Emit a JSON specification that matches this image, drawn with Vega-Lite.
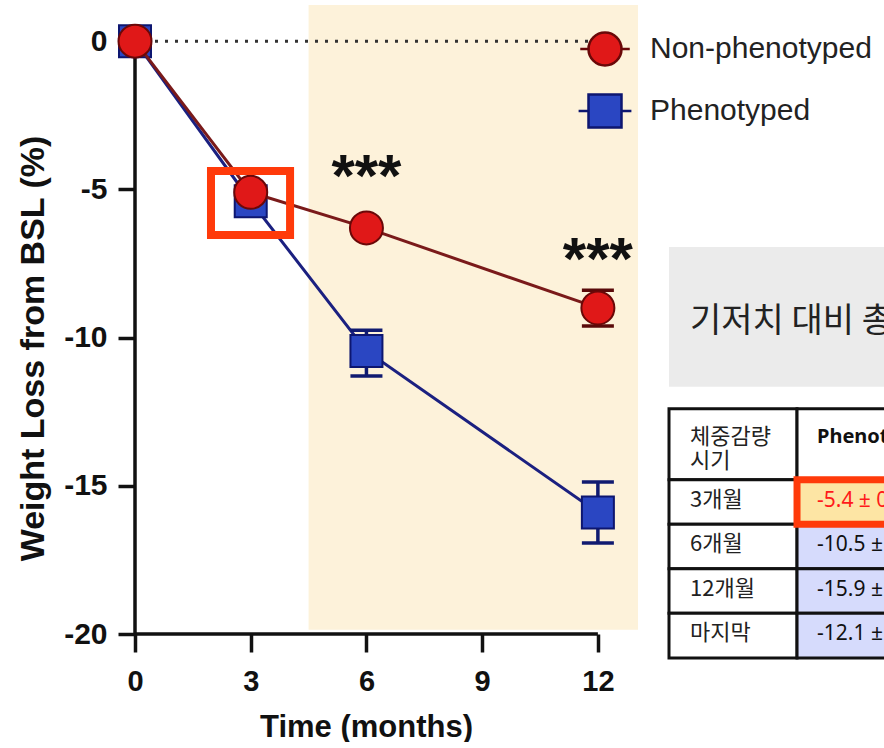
{
  "$schema": "https://vega.github.io/schema/vega-lite/v6.json",
  "padding": {"left": 16, "top": 5, "right": 0, "bottom": 0},
  "background": "white",
  "bounds": "flush",
  "spacing": 31,
  "config": {"view": {"stroke": null}, "font": "Liberation Sans"},
  "datasets": {
    "phen": [
      {"month": 0, "loss": 0},
      {"month": 3, "loss": -5.4},
      {"month": 6, "loss": -10.45},
      {"month": 12, "loss": -15.9}
    ],
    "non": [
      {"month": 0, "loss": 0},
      {"month": 3, "loss": -5.1},
      {"month": 6, "loss": -6.3},
      {"month": 12, "loss": -9.0}
    ],
    "phenErr": [
      {"month": 6, "lo": -11.3, "hi": -9.75},
      {"month": 12, "lo": -16.93, "hi": -14.87}
    ],
    "nonErr": [
      {"month": 12, "lo": -9.61, "hi": -8.4}
    ],
    "groups": [
      {"group": "Non-phenotyped"},
      {"group": "Phenotyped"}
    ],
    "stars": [
      {"month": 6, "y": -4.3, "label": "***"},
      {"month": 12, "y": -7.1, "label": "***"}
    ],
    "header": [
      {"label": "체중감량\n시기", "value": "Phenotyped", "top": 9.07, "bottom": 10.67}
    ],
    "tbl": [
      {"label": "3개월", "value": "-5.4 ± 0.3", "kind": "highlight", "top": 10.67, "bottom": 11.67},
      {"label": "6개월", "value": "-10.5 ± 0.7", "kind": "blue", "top": 11.67, "bottom": 12.67},
      {"label": "12개월", "value": "-15.9 ± 1.0", "kind": "blue", "top": 12.67, "bottom": 13.67},
      {"label": "마지막", "value": "-12.1 ± 0.8", "kind": "blue", "top": 13.67, "bottom": 14.67}
    ]
  },
  "hconcat": [
    {
      "width": 503,
      "height": 629,
      "layer": [
        {
          "data": {"values": [{"start": 4.5, "end": 13.04, "top": 1.22, "bottom": -19.86}]},
          "mark": {"type": "rect", "color": "#fdf2da"},
          "encoding": {
            "x": {"field": "start", "type": "quantitative",
              "scale": {"domain": [0, 13.04], "nice": false, "zero": false},
              "axis": {"values": [0, 3, 6, 9, 12], "domain": false, "grid": false, "tickSize": 18, "tickWidth": 3.5, "tickColor": "#111",
                "labelFontSize": 29, "labelFontWeight": "bold", "labelColor": "#111", "labelPadding": 15, "labelFlush": false,
                "title": "Time (months)", "titleFontSize": 31, "titleFontWeight": "bold", "titleColor": "#111", "titlePadding": 16, "titleX": 231}},
            "x2": {"field": "end"},
            "y": {"field": "top", "type": "quantitative",
              "scale": {"domain": [-20, 1.22], "nice": false, "zero": false},
              "axis": {"values": [0, -5, -10, -15, -20], "domain": false, "grid": false, "tickSize": 17, "tickWidth": 3.5, "tickColor": "#111",
                "labelFontSize": 30, "labelFontWeight": "bold", "labelColor": "#111", "labelPadding": 11, "labelExpr": "toString(datum.value)",
                "title": "Weight Loss from BSL (%)", "titleFontSize": 34, "titleFontWeight": "bold", "titleColor": "#111", "titlePadding": 13, "titleY": 343}},
            "y2": {"field": "bottom"}
          }
        },
        {
          "data": {"values": [{}]},
          "mark": {"type": "rule", "strokeWidth": 3.5, "color": "#111"},
          "encoding": {"x": {"datum": 0}, "y": {"datum": 0}, "y2": {"datum": -20}}
        },
        {
          "data": {"values": [{}]},
          "mark": {"type": "rule", "strokeWidth": 3.5, "color": "#111"},
          "encoding": {"x": {"datum": 0}, "x2": {"datum": 12}, "y": {"datum": -20}}
        },
        {
          "data": {"values": [{}]},
          "mark": {"type": "rule", "strokeWidth": 3, "color": "#333", "strokeDash": [3, 7]},
          "encoding": {"x": {"datum": 0}, "x2": {"datum": 12}, "y": {"datum": 0}}
        },
        {
          "data": {"name": "phen"},
          "mark": {"type": "line", "color": "#1b2080", "strokeWidth": 3},
          "encoding": {"x": {"field": "month", "type": "quantitative"}, "y": {"field": "loss", "type": "quantitative"}}
        },
        {
          "data": {"name": "phenErr"},
          "mark": {"type": "rule", "color": "#101a70", "strokeWidth": 3.5},
          "encoding": {"x": {"field": "month", "type": "quantitative"}, "y": {"field": "lo", "type": "quantitative"}, "y2": {"field": "hi"}}
        },
        {
          "data": {"name": "phenErr"},
          "mark": {"type": "tick", "orient": "horizontal", "color": "#101a70", "size": 32, "thickness": 3.5, "opacity": 1},
          "encoding": {"x": {"field": "month", "type": "quantitative"}, "y": {"field": "lo", "type": "quantitative"}}
        },
        {
          "data": {"name": "phenErr"},
          "mark": {"type": "tick", "orient": "horizontal", "color": "#101a70", "size": 32, "thickness": 3.5, "opacity": 1},
          "encoding": {"x": {"field": "month", "type": "quantitative"}, "y": {"field": "hi", "type": "quantitative"}}
        },
        {
          "data": {"name": "phen"},
          "mark": {"type": "point", "shape": "square", "size": 1024, "filled": true, "fill": "#2a46c2", "stroke": "#0d1670", "strokeWidth": 2, "opacity": 1},
          "encoding": {"x": {"field": "month", "type": "quantitative"}, "y": {"field": "loss", "type": "quantitative"}}
        },
        {
          "data": {"name": "non"},
          "mark": {"type": "line", "color": "#7a1a1a", "strokeWidth": 3},
          "encoding": {"x": {"field": "month", "type": "quantitative"}, "y": {"field": "loss", "type": "quantitative"}}
        },
        {
          "data": {"name": "nonErr"},
          "mark": {"type": "rule", "color": "#5a0a0a", "strokeWidth": 3.5},
          "encoding": {"x": {"field": "month", "type": "quantitative"}, "y": {"field": "lo", "type": "quantitative"}, "y2": {"field": "hi"}}
        },
        {
          "data": {"name": "nonErr"},
          "mark": {"type": "tick", "orient": "horizontal", "color": "#5a0a0a", "size": 32, "thickness": 3.5, "opacity": 1},
          "encoding": {"x": {"field": "month", "type": "quantitative"}, "y": {"field": "lo", "type": "quantitative"}}
        },
        {
          "data": {"name": "nonErr"},
          "mark": {"type": "tick", "orient": "horizontal", "color": "#5a0a0a", "size": 32, "thickness": 3.5, "opacity": 1},
          "encoding": {"x": {"field": "month", "type": "quantitative"}, "y": {"field": "hi", "type": "quantitative"}}
        },
        {
          "data": {"name": "non"},
          "mark": {"type": "point", "shape": "circle", "size": 1089, "filled": true, "fill": "#e01818", "stroke": "#6a0808", "strokeWidth": 2, "opacity": 1},
          "encoding": {"x": {"field": "month", "type": "quantitative"}, "y": {"field": "loss", "type": "quantitative"}}
        },
        {
          "data": {"name": "stars"},
          "mark": {"type": "text", "fontSize": 60, "fontWeight": "bold", "color": "#111", "align": "center", "baseline": "middle", "dy": 9},
          "encoding": {"x": {"field": "month", "type": "quantitative"}, "y": {"field": "y", "type": "quantitative"}, "text": {"field": "label"}}
        },
        {
          "data": {"values": [{}]},
          "mark": {"type": "rect", "fill": null, "fillOpacity": 0, "stroke": "#ff3a0a", "strokeWidth": 8},
          "encoding": {"x": {"datum": 1.97}, "x2": {"datum": 4.02}, "y": {"datum": -4.38}, "y2": {"datum": -6.54}}
        },
        {
          "data": {"name": "groups"},
          "mark": {"type": "point", "filled": true, "opacity": 0},
          "encoding": {
            "shape": {"field": "group", "type": "nominal",
              "scale": {"domain": ["Non-phenotyped", "Phenotyped"],
                "range": ["M-1,0A1,1 0 1,1 1,0A1,1 0 1,1 -1,0Z M-1.5,0L-1,0 M1,0L1.5,0", "M-1,-1H1V1H-1Z M-1.6,0H-1 M1,0H1.6"]},
              "legend": {"title": null, "orient": "none", "legendX": 452, "legendY": 26, "symbolSize": 1089, "symbolStrokeWidth": 2.5, "symbolOpacity": 1,
                "labelFontSize": 30, "labelFont": "Liberation Sans", "labelColor": "#222", "labelOffset": 27, "labelLimit": 400, "rowPadding": 18}},
            "fill": {"field": "group", "type": "nominal",
              "scale": {"domain": ["Non-phenotyped", "Phenotyped"], "range": ["#e01818", "#2a46c2"]},
              "legend": {"title": null, "orient": "none", "legendX": 452, "legendY": 26, "symbolSize": 1089, "symbolStrokeWidth": 2.5, "symbolOpacity": 1,
                "labelFontSize": 30, "labelFont": "Liberation Sans", "labelColor": "#222", "labelOffset": 27, "labelLimit": 400, "rowPadding": 18}},
            "stroke": {"field": "group", "type": "nominal",
              "scale": {"domain": ["Non-phenotyped", "Phenotyped"], "range": ["#6a0808", "#0d1670"]},
              "legend": {"title": null, "orient": "none", "legendX": 452, "legendY": 26, "symbolSize": 1089, "symbolStrokeWidth": 2.5, "symbolOpacity": 1,
                "labelFontSize": 30, "labelFont": "Liberation Sans", "labelColor": "#222", "labelOffset": 27, "labelLimit": 400, "rowPadding": 18}}
          }
        }
      ]
    },
    {
      "width": 217,
      "height": 660,
      "layer": [
        {
          "data": {"values": [{"x0": 0, "x1": 2.5, "y0": 5.44, "y1": 8.58}]},
          "mark": {"type": "rect", "color": "#ebebeb", "clip": true},
          "encoding": {
            "x": {"field": "x0", "type": "quantitative", "scale": {"domain": [0, 1.695], "nice": false, "zero": false}, "axis": null},
            "x2": {"field": "x1"},
            "y": {"field": "y0", "type": "quantitative", "scale": {"domain": [0, 14.83], "reverse": true, "nice": false, "zero": false}, "axis": null},
            "y2": {"field": "y1"}
          }
        },
        {
          "data": {"values": [{"text": "기저치 대비 총 체중 감량률"}]},
          "mark": {"type": "text", "font": "Noto Sans CJK KR", "fontSize": 34, "color": "#222", "align": "left", "baseline": "middle", "clip": true},
          "encoding": {"x": {"datum": 0.164}, "y": {"datum": 7.13}, "text": {"field": "text"}}
        },
        {
          "data": {"name": "header"},
          "mark": {"type": "rect", "fill": "#ffffff", "stroke": "#111", "strokeWidth": 3},
          "encoding": {"x": {"datum": 0}, "x2": {"datum": 1}, "y": {"field": "top", "type": "quantitative"}, "y2": {"field": "bottom"}}
        },
        {
          "data": {"name": "header"},
          "mark": {"type": "rect", "fill": "#ffffff", "stroke": "#111", "strokeWidth": 3, "clip": true},
          "encoding": {"x": {"datum": 1}, "x2": {"datum": 2.5}, "y": {"field": "top", "type": "quantitative"}, "y2": {"field": "bottom"}}
        },
        {
          "data": {"name": "tbl"},
          "mark": {"type": "rect", "fill": "#ffffff", "stroke": "#111", "strokeWidth": 3},
          "encoding": {"x": {"datum": 0}, "x2": {"datum": 1}, "y": {"field": "top", "type": "quantitative"}, "y2": {"field": "bottom"}}
        },
        {
          "data": {"name": "tbl"},
          "mark": {"type": "rect", "stroke": "#111", "strokeWidth": 3, "clip": true},
          "encoding": {"x": {"datum": 1}, "x2": {"datum": 2.5}, "y": {"field": "top", "type": "quantitative"}, "y2": {"field": "bottom"},
            "fill": {"condition": {"test": "datum.kind === 'highlight'", "value": "#fde5a4"}, "value": "#d6dbfc"}}
        },
        {
          "data": {"name": "tbl"},
          "transform": [{"filter": "datum.kind === 'highlight'"}],
          "mark": {"type": "rect", "fill": null, "fillOpacity": 0, "stroke": "#ff3a0a", "strokeWidth": 7, "clip": true},
          "encoding": {"x": {"datum": 1}, "x2": {"datum": 2.5}, "y": {"field": "top", "type": "quantitative"}, "y2": {"field": "bottom"}}
        },
        {
          "data": {"name": "header"},
          "mark": {"type": "text", "font": "Noto Sans CJK KR", "fontSize": 22, "color": "#222", "align": "left", "baseline": "middle", "lineBreak": "\n", "lineHeight": 24, "dy": 28},
          "encoding": {"x": {"datum": 0.164}, "y": {"field": "top", "type": "quantitative"}, "text": {"field": "label"}}
        },
        {
          "data": {"name": "header"},
          "mark": {"type": "text", "font": "Noto Sans", "fontSize": 20, "fontWeight": "bold", "color": "#111", "align": "left", "baseline": "middle", "dy": 28, "clip": true},
          "encoding": {"x": {"datum": 1.156}, "y": {"field": "top", "type": "quantitative"}, "text": {"field": "value"}}
        },
        {
          "data": {"name": "tbl"},
          "mark": {"type": "text", "font": "Noto Sans CJK KR", "fontSize": 22, "color": "#222", "align": "left", "baseline": "middle", "dy": 20},
          "encoding": {"x": {"datum": 0.164}, "y": {"field": "top", "type": "quantitative"}, "text": {"field": "label"}}
        },
        {
          "data": {"name": "tbl"},
          "mark": {"type": "text", "font": "Noto Sans", "fontSize": 21, "align": "left", "baseline": "middle", "dy": 21, "clip": true},
          "encoding": {"x": {"datum": 1.156}, "y": {"field": "top", "type": "quantitative"}, "text": {"field": "value"},
            "color": {"condition": {"test": "datum.kind === 'highlight'", "value": "#ff1a1a"}, "value": "#111"}}
        }
      ]
    }
  ]
}
